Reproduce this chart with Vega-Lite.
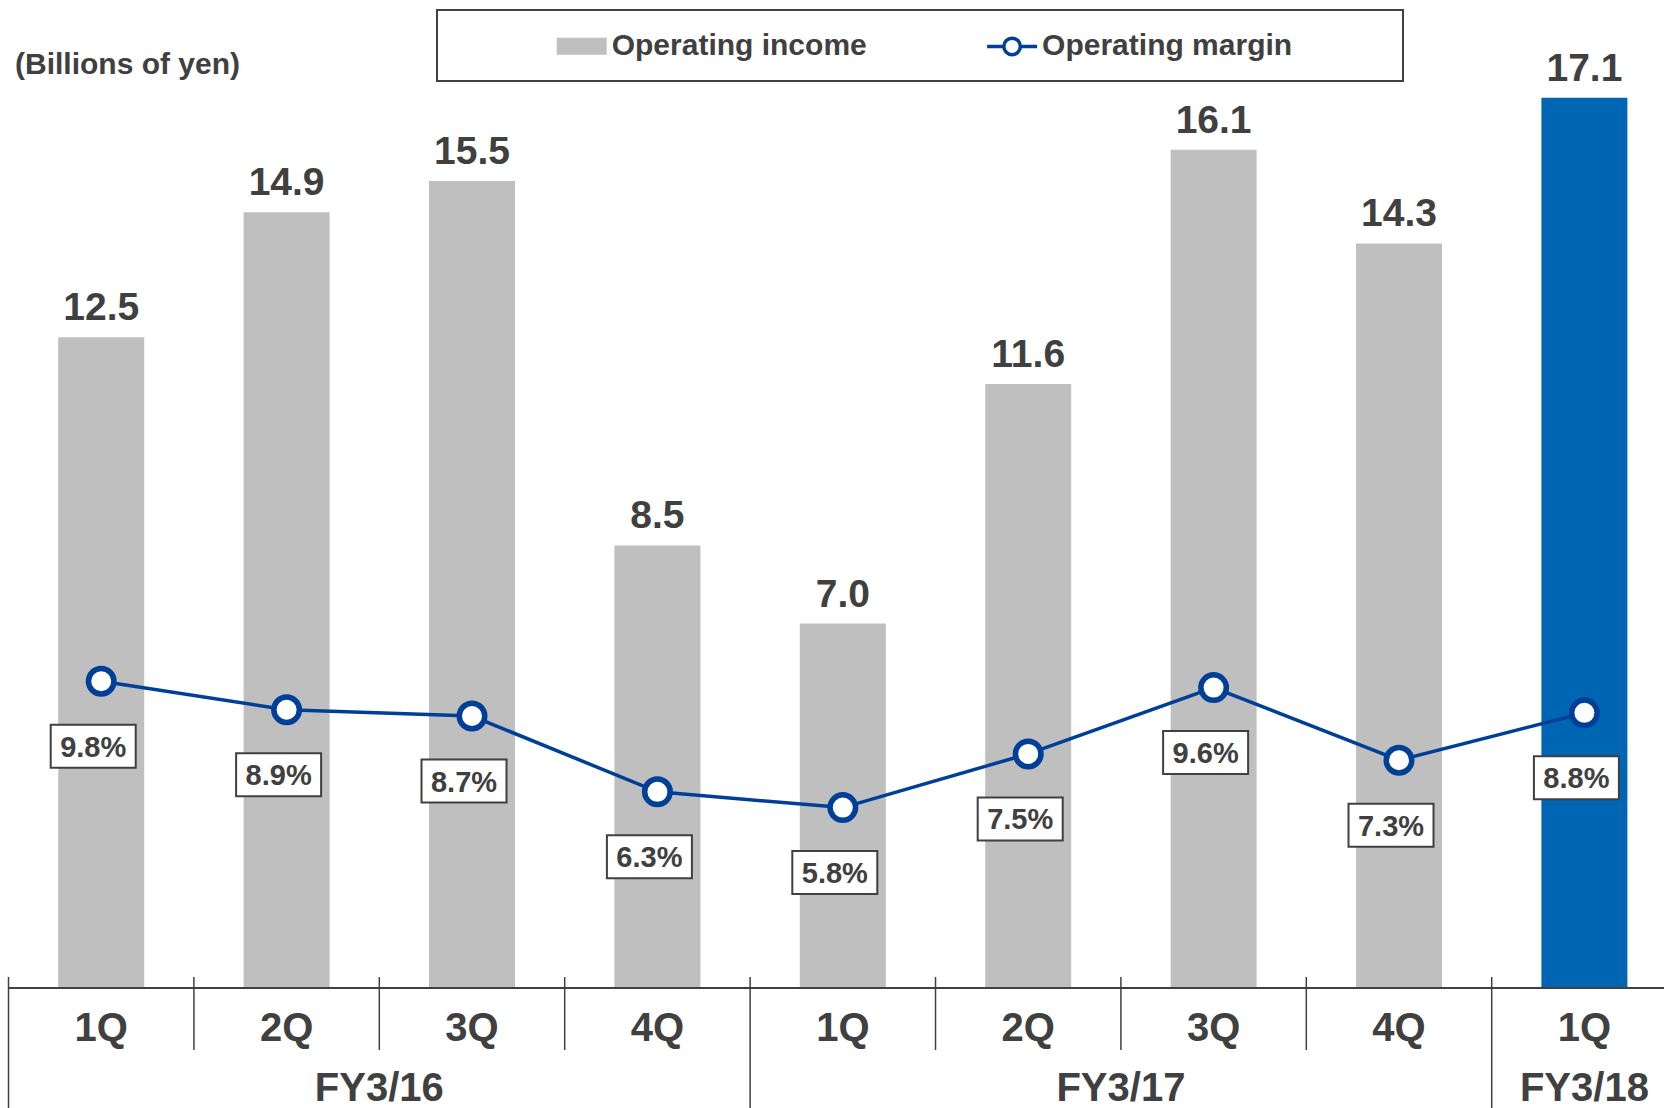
{
  "$schema": "https://vega.github.io/schema/vega-lite/v6.json",
  "width": 1664,
  "height": 1108,
  "autosize": {"type": "none"},
  "padding": 0,
  "background": "white",
  "config": {"view": {"stroke": null}, "font": "Liberation Sans", "legend": {"strokeWidth": 2}},
  "title": {"text": "(Billions of yen)", "anchor": "start", "frame": "group", "offset": 0, "dx": 15, "dy": 106, "baseline": "alphabetic", "fontSize": 30, "font": "Liberation Sans", "fontWeight": "bold", "color": "#404040"},
  "datasets": {
    "q": [
      {"i": 0, "q": "1Q", "fy": "FY3/16", "income": 12.5, "margin": 0.098},
      {"i": 1, "q": "2Q", "fy": "FY3/16", "income": 14.9, "margin": 0.089},
      {"i": 2, "q": "3Q", "fy": "FY3/16", "income": 15.5, "margin": 0.087},
      {"i": 3, "q": "4Q", "fy": "FY3/16", "income": 8.5, "margin": 0.063},
      {"i": 4, "q": "1Q", "fy": "FY3/17", "income": 7.0, "margin": 0.058},
      {"i": 5, "q": "2Q", "fy": "FY3/17", "income": 11.6, "margin": 0.075},
      {"i": 6, "q": "3Q", "fy": "FY3/17", "income": 16.1, "margin": 0.096},
      {"i": 7, "q": "4Q", "fy": "FY3/17", "income": 14.3, "margin": 0.073},
      {"i": 8, "q": "1Q", "fy": "FY3/18", "income": 17.1, "margin": 0.088}
    ]
  },
  "data": {"name": "q"},
  "encoding": {
    "x": {"field": "i", "type": "quantitative", "scale": {"domain": [-0.5459, 8.4293], "nice": false, "zero": false, "padding": 0}, "axis": null}
  },
  "layer": [
    {
      "mark": {"type": "bar", "width": 86},
      "encoding": {
        "y": {"field": "income", "type": "quantitative", "scale": {"domain": [-2.305, 18.975], "nice": false, "zero": false}, "axis": null},
        "y2": {"datum": 0},
        "color": {"condition": {"test": "datum.fy === 'FY3/18'", "value": "#0066b3"}, "value": "#bfbfbf"}
      }
    },
    {
      "mark": {"type": "text", "dy": -17, "baseline": "alphabetic", "align": "center", "fontSize": 39, "fontWeight": "bold", "color": "#404040", "font": "Liberation Sans"},
      "encoding": {
        "y": {"field": "income", "type": "quantitative", "scale": {"domain": [-2.305, 18.975], "nice": false, "zero": false}, "axis": null},
        "text": {"field": "income", "type": "quantitative", "format": ".1f"}
      }
    },
    {
      "mark": {"type": "rule", "color": "#404040", "strokeWidth": 2},
      "encoding": {
        "x": {"datum": -0.5, "type": "quantitative", "scale": {"domain": [-0.5459, 8.4293], "nice": false, "zero": false, "padding": 0}, "axis": null},
        "x2": {"datum": 8.4293},
        "y": {"datum": 0, "type": "quantitative", "scale": {"domain": [-2.305, 18.975], "nice": false, "zero": false}, "axis": null}
      }
    },
    {
      "transform": [{"filter": "datum.q !== '1Q'"}],
      "mark": {"type": "rule", "color": "#404040", "strokeWidth": 1.5, "xOffset": -92.7},
      "encoding": {
        "y": {"datum": 0.211, "type": "quantitative", "scale": {"domain": [-2.305, 18.975], "nice": false, "zero": false}, "axis": null},
        "y2": {"datum": -1.191}
      }
    },
    {
      "transform": [{"filter": "datum.q === '1Q'"}],
      "mark": {"type": "rule", "color": "#404040", "strokeWidth": 1.5, "xOffset": -92.7},
      "encoding": {
        "y": {"datum": 0.211, "type": "quantitative", "scale": {"domain": [-2.305, 18.975], "nice": false, "zero": false}, "axis": null},
        "y2": {"datum": -2.305}
      }
    },
    {
      "mark": {"type": "text", "baseline": "alphabetic", "align": "center", "fontSize": 40, "fontWeight": "bold", "color": "#404040", "font": "Liberation Sans"},
      "encoding": {
        "y": {"datum": -1.018, "type": "quantitative", "scale": {"domain": [-2.305, 18.975], "nice": false, "zero": false}, "axis": null},
        "text": {"field": "q", "type": "nominal"}
      }
    },
    {
      "transform": [{"aggregate": [{"op": "mean", "field": "i", "as": "mid"}], "groupby": ["fy"]}],
      "mark": {"type": "text", "baseline": "alphabetic", "align": "center", "fontSize": 40, "fontWeight": "bold", "color": "#404040", "font": "Liberation Sans"},
      "encoding": {
        "x": {"field": "mid", "type": "quantitative", "scale": {"domain": [-0.5459, 8.4293], "nice": false, "zero": false, "padding": 0}, "axis": null},
        "y": {"datum": -2.18, "type": "quantitative", "scale": {"domain": [-2.305, 18.975], "nice": false, "zero": false}, "axis": null},
        "text": {"field": "fy", "type": "nominal"}
      }
    },
    {
      "mark": {"type": "line", "color": "#003f98", "strokeWidth": 3.5},
      "encoding": {
        "y": {"field": "margin", "type": "quantitative", "scale": {"domain": [-0.03714, 0.31377], "nice": false, "zero": false}, "axis": null}
      }
    },
    {
      "mark": {"type": "point", "filled": true, "fill": "white", "stroke": "#003f98", "strokeWidth": 5.5, "size": 650, "opacity": 1},
      "encoding": {
        "y": {"field": "margin", "type": "quantitative", "scale": {"domain": [-0.03714, 0.31377], "nice": false, "zero": false}, "axis": null}
      }
    },
    {
      "mark": {"type": "point", "shape": "M-1,-0.506L1,-0.506L1,0.506L-1,0.506Z", "size": 7225, "filled": true, "fill": "white", "stroke": "#404040", "strokeWidth": 2, "xOffset": -8, "yOffset": 65, "opacity": 1},
      "encoding": {
        "y": {"field": "margin", "type": "quantitative", "scale": {"domain": [-0.03714, 0.31377], "nice": false, "zero": false}, "axis": null}
      }
    },
    {
      "mark": {"type": "text", "xOffset": -8, "yOffset": 75.5, "baseline": "alphabetic", "align": "center", "fontSize": 29, "fontWeight": "bold", "color": "#404040", "font": "Liberation Sans"},
      "encoding": {
        "y": {"field": "margin", "type": "quantitative", "scale": {"domain": [-0.03714, 0.31377], "nice": false, "zero": false}, "axis": null},
        "text": {"field": "margin", "type": "quantitative", "format": ".1%"}
      }
    },
    {
      "data": {"values": [{"series": "Operating income"}, {"series": "Operating margin"}]},
      "mark": {"type": "point", "opacity": 0, "strokeWidth": 3.5},
      "encoding": {
        "x": {"value": 0},
        "y": {"value": 0},
        "shape": {
          "field": "series",
          "type": "nominal",
          "scale": {
            "domain": ["Operating income", "Operating margin"],
            "range": ["M-1.667,-0.567L1.667,-0.567L1.667,0.567L-1.667,0.567Z", "M-1.667,0L-0.55,0M0.55,0A0.55,0.55,0,1,1,-0.55,0A0.55,0.55,0,1,1,0.55,0M0.55,0L1.667,0"]
          },
          "legend": {
            "orient": "none",
            "legendX": 437,
            "legendY": 10,
            "direction": "horizontal",
            "title": " ",
            "titleOrient": "left",
            "titleFontSize": 30,
            "titlePadding": 108.7,
            "padding": 19,
            "strokeColor": "#404040",
            "symbolSize": 900,
            "symbolStrokeWidth": 3.5,
            "symbolOpacity": 1,
            "labelFont": "Liberation Sans",
            "labelFontSize": 30,
            "labelFontWeight": "bold",
            "labelColor": "#404040",
            "labelOffset": 13,
            "labelLimit": 2000,
            "columnPadding": 111.4,
            "labelExpr": "datum.value === 'Operating margin' ? datum.value + '           \u200b' : datum.value"
          }
        },
        "fill": {
          "field": "series",
          "type": "nominal",
          "scale": {"domain": ["Operating income", "Operating margin"], "range": ["#bfbfbf", "#ffffff"]},
          "legend": {
            "orient": "none",
            "legendX": 437,
            "legendY": 10,
            "direction": "horizontal",
            "title": " ",
            "titleOrient": "left",
            "titleFontSize": 30,
            "titlePadding": 108.7,
            "padding": 19,
            "strokeColor": "#404040",
            "symbolSize": 900,
            "symbolStrokeWidth": 3.5,
            "symbolOpacity": 1,
            "labelFont": "Liberation Sans",
            "labelFontSize": 30,
            "labelFontWeight": "bold",
            "labelColor": "#404040",
            "labelOffset": 13,
            "labelLimit": 2000,
            "columnPadding": 111.4,
            "labelExpr": "datum.value === 'Operating margin' ? datum.value + '           \u200b' : datum.value"
          }
        },
        "stroke": {
          "field": "series",
          "type": "nominal",
          "scale": {"domain": ["Operating income", "Operating margin"], "range": ["transparent", "#003f98"]},
          "legend": {
            "orient": "none",
            "legendX": 437,
            "legendY": 10,
            "direction": "horizontal",
            "title": " ",
            "titleOrient": "left",
            "titleFontSize": 30,
            "titlePadding": 108.7,
            "padding": 19,
            "strokeColor": "#404040",
            "symbolSize": 900,
            "symbolStrokeWidth": 3.5,
            "symbolOpacity": 1,
            "labelFont": "Liberation Sans",
            "labelFontSize": 30,
            "labelFontWeight": "bold",
            "labelColor": "#404040",
            "labelOffset": 13,
            "labelLimit": 2000,
            "columnPadding": 111.4,
            "labelExpr": "datum.value === 'Operating margin' ? datum.value + '           \u200b' : datum.value"
          }
        }
      }
    }
  ],
  "resolve": {"scale": {"y": "independent"}}
}
